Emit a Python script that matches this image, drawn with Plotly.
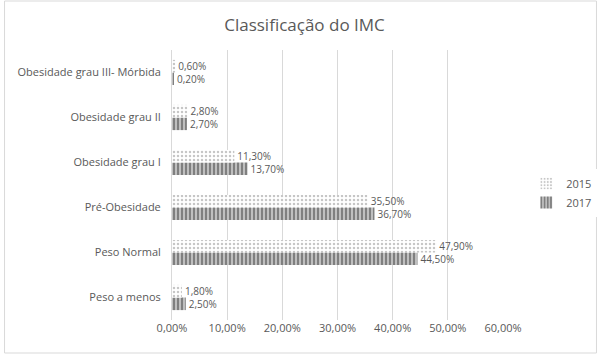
import plotly.graph_objects as go

categories = ["Peso a menos", "Peso Normal", "Pré-Obesidade", "Obesidade grau I",
              "Obesidade grau II", "Obesidade grau III- Mórbida"]
v2015 = [1.8, 47.9, 35.5, 11.3, 2.8, 0.6]
v2017 = [2.5, 44.5, 36.7, 13.7, 2.7, 0.2]
xticks = [0, 10, 20, 30, 40, 50, 60]

def lab(v):
    return [f"{x:.2f}%".replace(".", ",") for x in v]

gray = "#595959"
fig = go.Figure()
fig.add_trace(go.Bar(
    y=categories, x=v2017, name="2017", orientation="h",
    text=lab(v2017), textposition="outside", textfont=dict(color=gray, size=10),
    constraintext="none",
    marker=dict(color="white", line=dict(width=0),
                pattern=dict(shape="|", fgcolor="black", bgcolor="white", size=4, solidity=0.75)),
    cliponaxis=False,
))
fig.add_trace(go.Bar(
    y=categories, x=v2015, name="2015", orientation="h",
    text=lab(v2015), textposition="outside", textfont=dict(color=gray, size=10),
    constraintext="none",
    marker=dict(color="white", line=dict(width=0),
                pattern=dict(shape=".", fgcolor="#8c8c8c", bgcolor="white", size=4, solidity=0.3)),
    cliponaxis=False,
))
fig.update_layout(
    width=609, height=354,
    margin=dict(l=172, r=97, t=50, b=34),
    paper_bgcolor="white", plot_bgcolor="white",
    font=dict(family="Open Sans", color=gray, size=11),
    title=dict(text="Classificação do IMC", x=0.5, xanchor="center", y=0.93, yanchor="middle",
               font=dict(size=17, color=gray)),
    barmode="group", bargap=0.44, bargroupgap=0.0,
    uniformtext=dict(minsize=10, mode="show"),
    showlegend=True,
    legend=dict(traceorder="reversed", x=1.07, y=0.47, xanchor="left", yanchor="middle",
                font=dict(size=11, color=gray), itemwidth=30, tracegroupgap=14),
    xaxis=dict(range=[0, 60], tickvals=xticks, ticktext=[f"{t:.2f}%".replace(".", ",") for t in xticks],
               showgrid=True, gridcolor="#d9d9d9", gridwidth=1, zeroline=False,
               showline=False, tickfont=dict(size=11, color=gray)),
    yaxis=dict(categoryorder="array", categoryarray=categories, showline=True,
               linecolor="#d9d9d9", ticks="", tickfont=dict(size=11, color=gray),
               ticklabelstandoff=8),
    shapes=[dict(type="rect", xref="paper", yref="paper", x0=-172/340, x1=1+96/340,
                 y0=-33/270, y1=1+49/270, line=dict(color="#d9d9d9", width=1))],
)
fig.write_html("out.html")
